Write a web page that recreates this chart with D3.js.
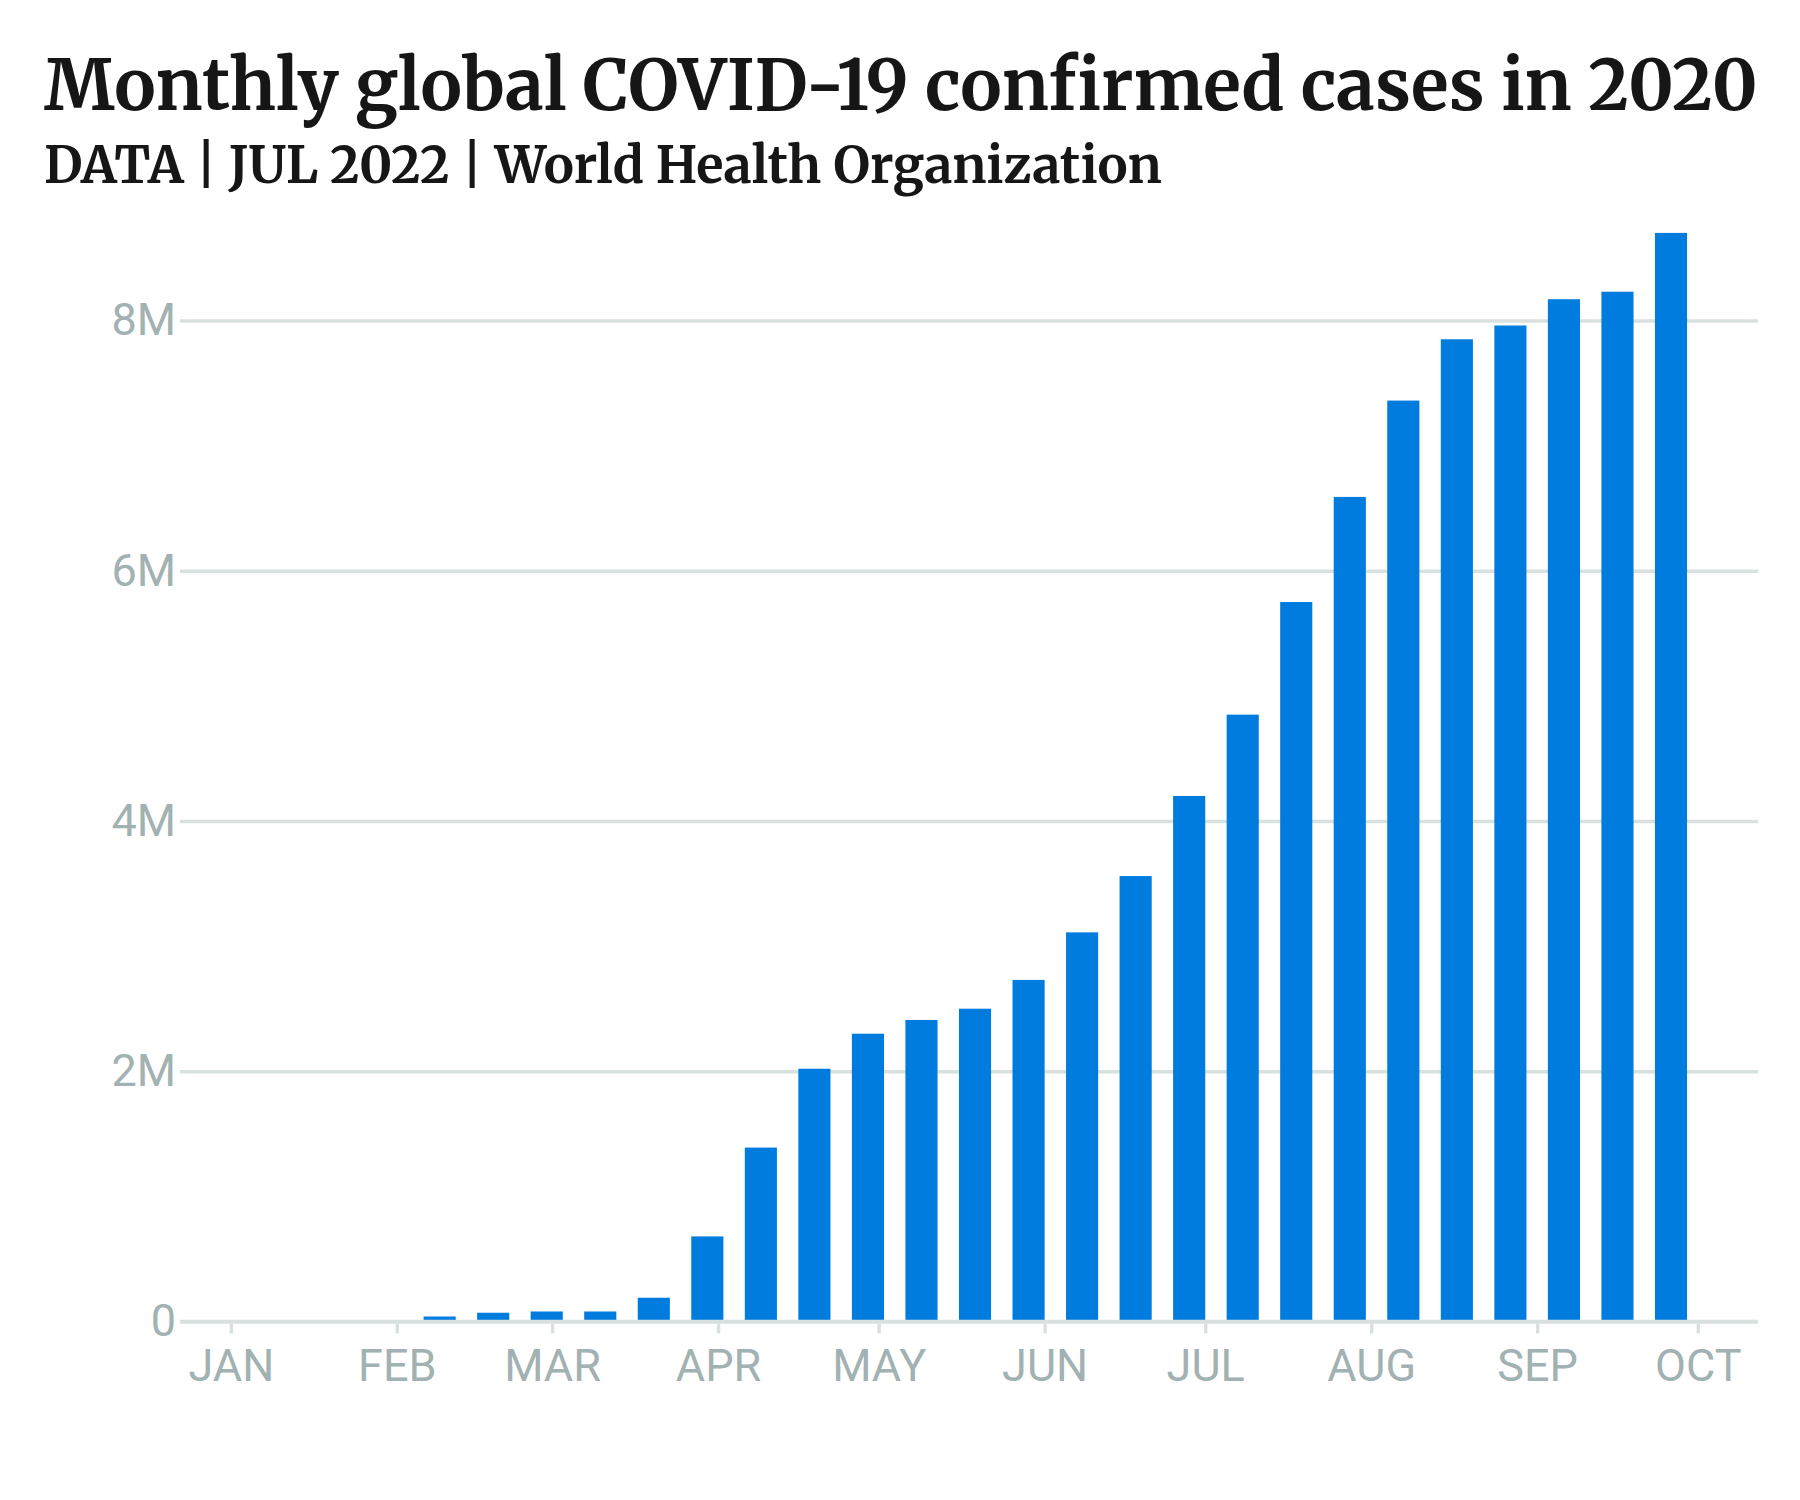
<!DOCTYPE html>
<html>
<head>
<meta charset="utf-8">
<script src="https://cdn.jsdelivr.net/npm/d3@7"></script>
<style>
  body { margin: 0; background: #fff; }
  svg { display: block; }
</style>
</head>
<body>
<script>
// values, ten-day steps
var periodDates = ["2020-02-09", "2020-02-19", "2020-02-29", "2020-03-10", "2020-03-20", "2020-03-30",
    "2020-04-09", "2020-04-19", "2020-04-29", "2020-05-09", "2020-05-19", "2020-05-29",
    "2020-06-08", "2020-06-18", "2020-06-28", "2020-07-08", "2020-07-18", "2020-07-28",
    "2020-08-07", "2020-08-17", "2020-08-27", "2020-09-06", "2020-09-16", "2020-09-26"];
var caseValues = [40000, 70000, 80000, 80000, 190000, 680000,
    1390000, 2020000, 2300000, 2410000, 2500000, 2730000,
    3110000, 3560000, 4200000, 4850000, 5750000, 6590000,
    7360000, 7850000, 7960000, 8170000, 8230000, 8700000];
var yTicks = [0, 2e6, 4e6, 6e6, 8e6];
var titleText = "Monthly global COVID-19 confirmed cases in 2020";
var subtitleText = "DATA | JUL 2022 | World Health Organization";

var W = 1800, H = 1500;
var left = 180, right = 1758, baseY = 1321.5, topY = 320.5;
var gray = "#a2b1b1", gridGray = "#d9e0e0", blue = "#007cdf";
var parse = d3.timeParse("%Y-%m-%d");

var data = periodDates.map(function (d, i) { return { date: parse(d), value: caseValues[i] }; });

const svg = d3.select("body").append("svg")
    .attr("width", W)
    .attr("height", H);

//title + subtitle, scaled to the measured widths
function fitText(txt, y, targetW, weight) {
    var t = svg.append("text")
        .attr("x", 44)
        .attr("y", y)
        .style("font-family", "Merriweather, 'DejaVu Serif', serif")
        .style("font-weight", weight)
        .style("font-size", "100px")
        .attr("fill", "#161616")
        .text(txt);
    var w = t.node().getComputedTextLength();
    t.style("font-size", (100 * targetW / w) + "px");
    return t;
}
fitText(titleText, 110, 1714, 700);
fitText(subtitleText, 183, 1118, 700);

var x = d3.scaleTime()
    .domain([new Date(2019, 11, 22, 12), new Date(2020, 9, 12, 6)])
    .range([left, right]);
var y = d3.scaleLinear()
    .domain([0, 8e6])
    .range([baseY, topY]);

//grid + y labels
var yAxis = svg.append("g")
    .attr("transform", "translate(" + left + ",0)")
    .call(d3.axisLeft(y)
        .tickValues(yTicks)
        .tickSize(-(right - left))
        .tickPadding(4)
        .tickFormat(function (d) { return d === 0 ? "0" : (d / 1e6) + "M"; }));
yAxis.select(".domain").remove();
yAxis.selectAll(".tick line")
    .attr("stroke", gridGray)
    .attr("stroke-width", 3.5);
yAxis.selectAll(".tick text")
    .attr("fill", gray)
    .style("font-family", "Roboto, sans-serif")
    .style("font-size", "45px");

//bars
var barW = x(new Date(2020, 0, 7)) - x(new Date(2020, 0, 1.1));
svg.append("g").selectAll("rect")
    .data(data)
    .enter()
    .append("rect")
    .attr("x", function (d) { return x(d.date) - barW / 2; })
    .attr("y", function (d) { return y(d.value); })
    .attr("width", barW)
    .attr("height", function (d) { return baseY - 1.5 - y(d.value); })
    .attr("fill", blue);

//baseline over the bars
svg.append("line")
    .attr("x1", left)
    .attr("x2", right)
    .attr("y1", baseY)
    .attr("y2", baseY)
    .attr("stroke", gridGray)
    .attr("stroke-width", 3.5);

//month ticks
var xAxis = svg.append("g")
    .attr("transform", "translate(0," + (baseY + 2) + ")")
    .call(d3.axisBottom(x)
        .ticks(d3.timeMonth.every(1))
        .tickSize(10)
        .tickFormat(function (d) { return d3.timeFormat("%b")(d).toUpperCase(); }));
xAxis.select(".domain").remove();
xAxis.selectAll(".tick line")
    .attr("stroke", gridGray)
    .attr("stroke-width", 3.4);
xAxis.selectAll(".tick text")
    .attr("y", 57)
    .attr("dy", 0)
    .attr("fill", gray)
    .style("font-family", "Roboto, sans-serif")
    .style("font-size", "45px");
</script>
</body>
</html>
